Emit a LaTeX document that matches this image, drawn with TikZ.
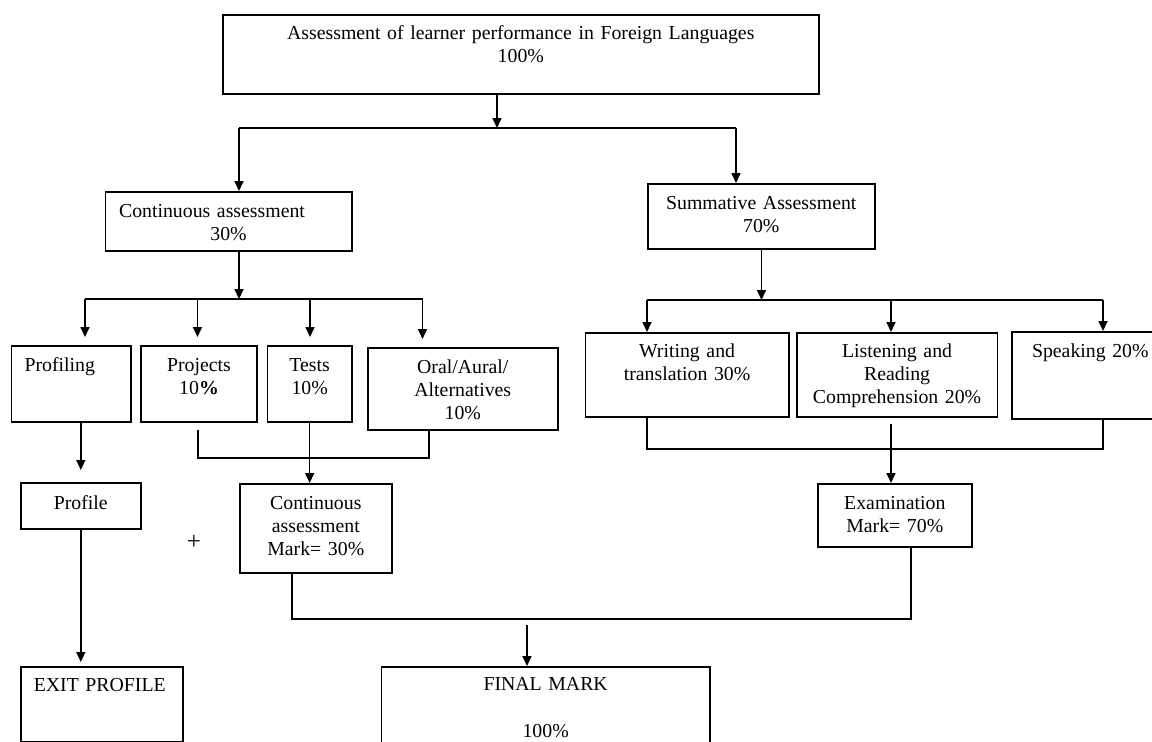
\documentclass[tikz,border=0pt]{standalone}
\usepackage{fontspec}
\setmainfont{Liberation Serif}
\usetikzlibrary{arrows.meta,calc}

\begin{document}
\begin{tikzpicture}[x=1pt,y=-1pt,line width=1.6pt,
  box/.style={draw,rectangle,anchor=north west,inner sep=0pt,align=center,
    font=\fontsize{19.8}{23}\selectfont,text height=0pt,text depth=0pt},
  lbox/.style={box,align=left,inner xsep=13pt},
  arr/.style={-{Triangle[width=9pt,length=10pt]}}]
\useasboundingbox (0,0) rectangle (1152,742);
\node[box,minimum width=596pt,minimum height=79pt,text width=596pt,text depth=29pt] (whole) at (222,14) {Assessment of learner performance in Foreign Languages\\100\%};
\node[box,minimum width=246.5pt,minimum height=59pt,text width=246.5pt,text depth=7pt] (cont) at (104.5,191) {\makebox[219pt][l]{Continuous assessment}\\30\%};
\node[box,minimum width=227pt,minimum height=65pt,text width=227pt,text depth=13pt] (summ) at (647,183) {Summative Assessment\\70\%};
\node[lbox,minimum width=119.3pt,minimum height=76pt,text width=93.3pt,text depth=24pt] (profiling) at (10.7,345) {Profiling};
\node[box,minimum width=116.4pt,minimum height=76pt,text width=116.4pt,text depth=24pt] (projects) at (140,345) {Projects\\10\textbf{\%}};
\node[box,minimum width=84.3pt,minimum height=76pt,text width=84.3pt,text depth=24pt] (tests) at (266.7,345) {Tests\\10\%};
\node[box,minimum width=190pt,minimum height=82pt,text width=190pt,text depth=30pt] (oral) at (367,347) {Oral/Aural/\\Alternatives\\10\%};
\node[box,minimum width=203.5pt,minimum height=84pt,text width=203.5pt,text depth=34pt] (writing) at (584.5,332) {Writing and\\translation 30\%};
\node[box,minimum width=200.5pt,minimum height=84pt,text width=200.5pt,text depth=34pt] (listening) at (796,332) {Listening and\\Reading\\Comprehension 20\%};
\node[box,minimum width=157pt,minimum height=87pt,text width=157pt,text depth=35pt] (speaking) at (1011,331) {Speaking 20\%};
\node[box,minimum width=120pt,minimum height=46pt,text width=120pt,text height=8pt] (profile) at (20,482) {Profile};
\node[box,minimum width=152pt,minimum height=89pt,text width=152pt,text depth=37pt] (cmark) at (239,483) {Continuous\\assessment\\Mark= 30\%};
\node[box,minimum width=154pt,minimum height=63pt,text width=154pt,text depth=11pt] (exam) at (817,483) {Examination\\Mark= 70\%};
\node[lbox,minimum width=162pt,minimum height=75pt,text width=136pt,text depth=25pt] (exit) at (20,666) {EXIT PROFILE};
\node[box,minimum width=328.3pt,minimum height=100pt,text width=328.3pt,text depth=52pt] (final) at (380.7,666) {FINAL MARK\\[24pt]100\%};
\node[font=\fontsize{25}{28}\selectfont] (plus) at (194,542) {+};
\coordinate (topj) at (497,128);
\coordinate (contj) at (239,299);
\coordinate (summj) at (761.5,300);
\draw[arr] (whole.south -| topj) -- (topj);
\draw (239,128) -- (736,128);
\draw[arr] (239,128) -- (239,0 |- cont.north);
\draw[arr] (736,128) -- (736,0 |- summ.north);
\draw[arr] (cont.south -| contj) -- (contj);
\draw (85,299) -- (422.5,299);
\foreach \x/\nm in {85/profiling,197.5/projects,310/tests,422.5/oral}
  \draw[arr,shorten >=8pt] (\x,299) -- (\x,0 |- \nm.north);
\draw[arr] (summ.south -| summj) -- (summj);
\draw (647,300) -- (1103,300);
\foreach \x/\nm in {647/writing,891/listening,1103/speaking}
  \draw[arr] (\x,300) -- (\x,0 |- \nm.north);
\draw (198,0 |- projects.south) ++(0,7) -- (198,458) -- (429,458) -- (429,0 |- oral.south);
\draw[arr] (tests.south) -- (tests.south |- cmark.north);
\draw[arr,shorten >=12pt] (profile.north |- profiling.south) -- (profile.north);
\draw[arr,shorten >=4pt] (profile.south) -- (profile.south |- exit.north);
\draw (647,0 |- writing.south) -- (647,449) -- (1103,449) -- (1103,0 |- speaking.south);
\draw[arr] (891,0 |- listening.south) ++(0,6) -- (891,0 |- exam.north);
\draw (292,0 |- cmark.south) -- (292,619) -- (911,619) -- (911,0 |- exam.south);
\draw[arr] (527,625) -- (527,0 |- final.north);
\end{tikzpicture}
\end{document}
